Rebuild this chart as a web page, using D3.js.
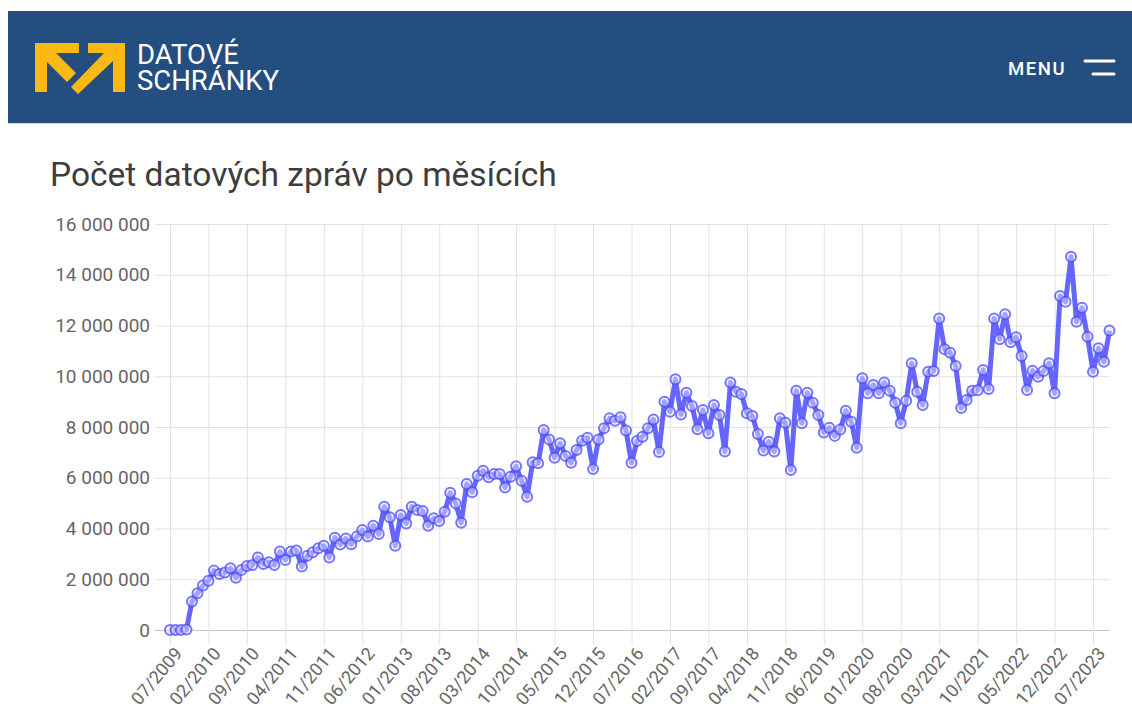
<!DOCTYPE html>
<html lang="cs">
<head>
<meta charset="utf-8">
<script src="https://cdn.jsdelivr.net/npm/d3@7"></script>
<style>
  body { margin: 0; background: #fff; font-family: Roboto, "Noto Sans", sans-serif; }
  svg { display: block; }
</style>
</head>
<body>
<svg id="chart" width="1132" height="710"></svg>
<script>
// DATA
// first month of the series, one value per month after it
const startMonth = "2009-07";
// messages per month, in millions
const messages = [
  0, 0, 0, 0.02, 1.12, 1.45, 1.75, 1.94, 2.34, 2.21, 2.27, 2.43, 2.06, 2.36, 2.52, 2.56,
  2.86, 2.60, 2.67, 2.56, 3.09, 2.76, 3.09, 3.13, 2.50, 2.93, 3.06, 3.22, 3.32, 2.86, 3.64, 3.37,
  3.61, 3.38, 3.68, 3.94, 3.68, 4.11, 3.78, 4.86, 4.44, 3.32, 4.53, 4.20, 4.86, 4.73, 4.69, 4.11,
  4.40, 4.30, 4.66, 5.41, 4.99, 4.23, 5.75, 5.43, 6.08, 6.28, 6.02, 6.15, 6.15, 5.62, 6.04, 6.45,
  5.88, 5.25, 6.61, 6.57, 7.88, 7.51, 6.79, 7.36, 6.86, 6.59, 7.09, 7.46, 7.58, 6.34, 7.51, 7.95,
  8.34, 8.25, 8.38, 7.86, 6.59, 7.45, 7.62, 7.95, 8.30, 7.01, 9.00, 8.60, 9.88, 8.49, 9.35, 8.83,
  7.91, 8.67, 7.75, 8.87, 8.47, 7.03, 9.75, 9.39, 9.30, 8.54, 8.43, 7.72, 7.07, 7.42, 7.03, 8.34,
  8.17, 6.31, 9.43, 8.15, 9.35, 8.96, 8.47, 7.78, 7.97, 7.65, 7.90, 8.64, 8.21, 7.18, 9.92, 9.33,
  9.66, 9.33, 9.75, 9.43, 8.96, 8.15, 9.03, 10.51, 9.39, 8.87, 10.18, 10.21, 12.28, 11.06, 10.93, 10.40,
  8.75, 9.06, 9.43, 9.45, 10.25, 9.50, 12.28, 11.46, 12.44, 11.34, 11.54, 10.80, 9.46, 10.22, 9.98, 10.21,
  10.51, 9.33, 13.16, 12.94, 14.71, 12.15, 12.70, 11.56, 10.18, 11.10, 10.57, 11.80
];
const yTicks = [0, 2000000, 4000000, 6000000, 8000000, 10000000, 12000000, 14000000, 16000000];
const xTickLabels = ["07/2009", "02/2010", "09/2010", "04/2011", "11/2011", "06/2012", "01/2013",
  "08/2013", "03/2014", "10/2014", "05/2015", "12/2015", "07/2016", "02/2017", "09/2017", "04/2018",
  "11/2018", "06/2019", "01/2020", "08/2020", "03/2021", "10/2021", "05/2022", "12/2022", "07/2023"];

const fmtMonth = d3.utcFormat("%m/%Y");
const start = d3.utcParse("%Y-%m")(startMonth);
const months = messages.map((v, i) => fmtMonth(d3.utcMonth.offset(start, i)));
const data = months.map((m, i) => ({month: m, value: messages[i] * 1e6}));

const svg = d3.select("#chart");

// HEADER
svg.append("rect").attr("x", 8).attr("y", 11).attr("width", 1124).attr("height", 112)
  .attr("fill", "#244e80");
svg.append("rect").attr("x", 8).attr("y", 123).attr("width", 1124).attr("height", 1)
  .attr("fill", "#c9d6e6");

const logo = svg.append("g").attr("fill", "#fdb913");
logo.append("polygon").attr("points",
  "35,43 79,43 79,53 56,53 76,73 67,82 47,62 47,92 35,92");
logo.append("polygon").attr("points",
  "88,43 125,43 125,92 113,92 113,61 78,94 71,87 104,53 88,53");

svg.append("text").attr("x", 137).attr("y", 64).attr("fill", "#fff")
  .style("font-size", "27.5px").text("DATOVÉ");
svg.append("text").attr("x", 137).attr("y", 90).attr("fill", "#fff")
  .style("font-size", "27.5px").text("SCHRÁNKY");

svg.append("text").attr("x", 1008).attr("y", 75).attr("fill", "#fff")
  .style("font-size", "18.5px").style("font-weight", 500).style("letter-spacing", "1.6px")
  .text("MENU");
svg.append("line").attr("x1", 1085).attr("x2", 1114).attr("y1", 61).attr("y2", 61)
  .attr("stroke", "#fff").attr("stroke-width", 3).attr("stroke-linecap", "round");
svg.append("line").attr("x1", 1093).attr("x2", 1114).attr("y1", 74).attr("y2", 74)
  .attr("stroke", "#fff").attr("stroke-width", 3).attr("stroke-linecap", "round");

// TITLE
svg.append("text").attr("x", 50).attr("y", 186).attr("fill", "#3d3d3d")
  .style("font-size", "33.5px").text("Počet datových zpráv po měsících");

// SCALES
const x = d3.scalePoint().domain(months).range([170, 1109.5]);
const y = d3.scaleLinear().domain([0, 16000000]).range([630, 224]);

const locale = d3.formatLocale({decimal: ",", thousands: " ", grouping: [3], currency: ["", ""]});
const fmt = locale.format(",");

// y axis + horizontal grid
const yAxis = svg.append("g")
  .attr("transform", "translate(170,0)")
  .call(d3.axisLeft(y).tickValues(yTicks).tickFormat(fmt)
    .tickSize(-(1109.5 - 170)).tickPadding(20));
yAxis.select(".domain").remove();
yAxis.selectAll(".tick line").attr("x1", -15).attr("stroke", "#e2e2e2");
yAxis.selectAll(".tick").filter(d => d === 0).select("line").attr("stroke", "#c8c8c8");
yAxis.selectAll("text").attr("fill", "#666").style("font-size", "19px")
  .style("font-family", "Roboto, sans-serif");

// x axis + vertical grid
const xAxis = svg.append("g")
  .attr("transform", "translate(0,630)")
  .call(d3.axisBottom(x).tickValues(xTickLabels).tickSize(15));
xAxis.select(".domain").remove();
xAxis.selectAll(".tick line").attr("y1", -(630 - 224)).attr("stroke", "#e2e2e2");
xAxis.selectAll("text")
  .attr("fill", "#666").style("font-size", "18px").style("font-family", "Roboto, sans-serif")
  .attr("text-anchor", "end")
  .attr("x", 0).attr("y", 0)
  .attr("dy", "0.35em")
  .attr("transform", "translate(8,20) rotate(-50)");

// LINE
const line = d3.line().x(d => x(d.month)).y(d => y(d.value)).curve(d3.curveLinear);
svg.append("path").datum(data)
  .attr("d", line)
  .attr("fill", "none")
  .attr("stroke", "rgba(75,75,255,0.85)")
  .attr("stroke-width", 5)
  .attr("stroke-linejoin", "round");

svg.append("g").selectAll("circle").data(data).join("circle")
  .attr("cx", d => x(d.month))
  .attr("cy", d => y(d.value))
  .attr("r", 5)
  .attr("fill", "rgba(225,225,255,0.5)")
  .attr("stroke", "rgba(75,75,255,0.75)")
  .attr("stroke-width", 2);
</script>
</body>
</html>
